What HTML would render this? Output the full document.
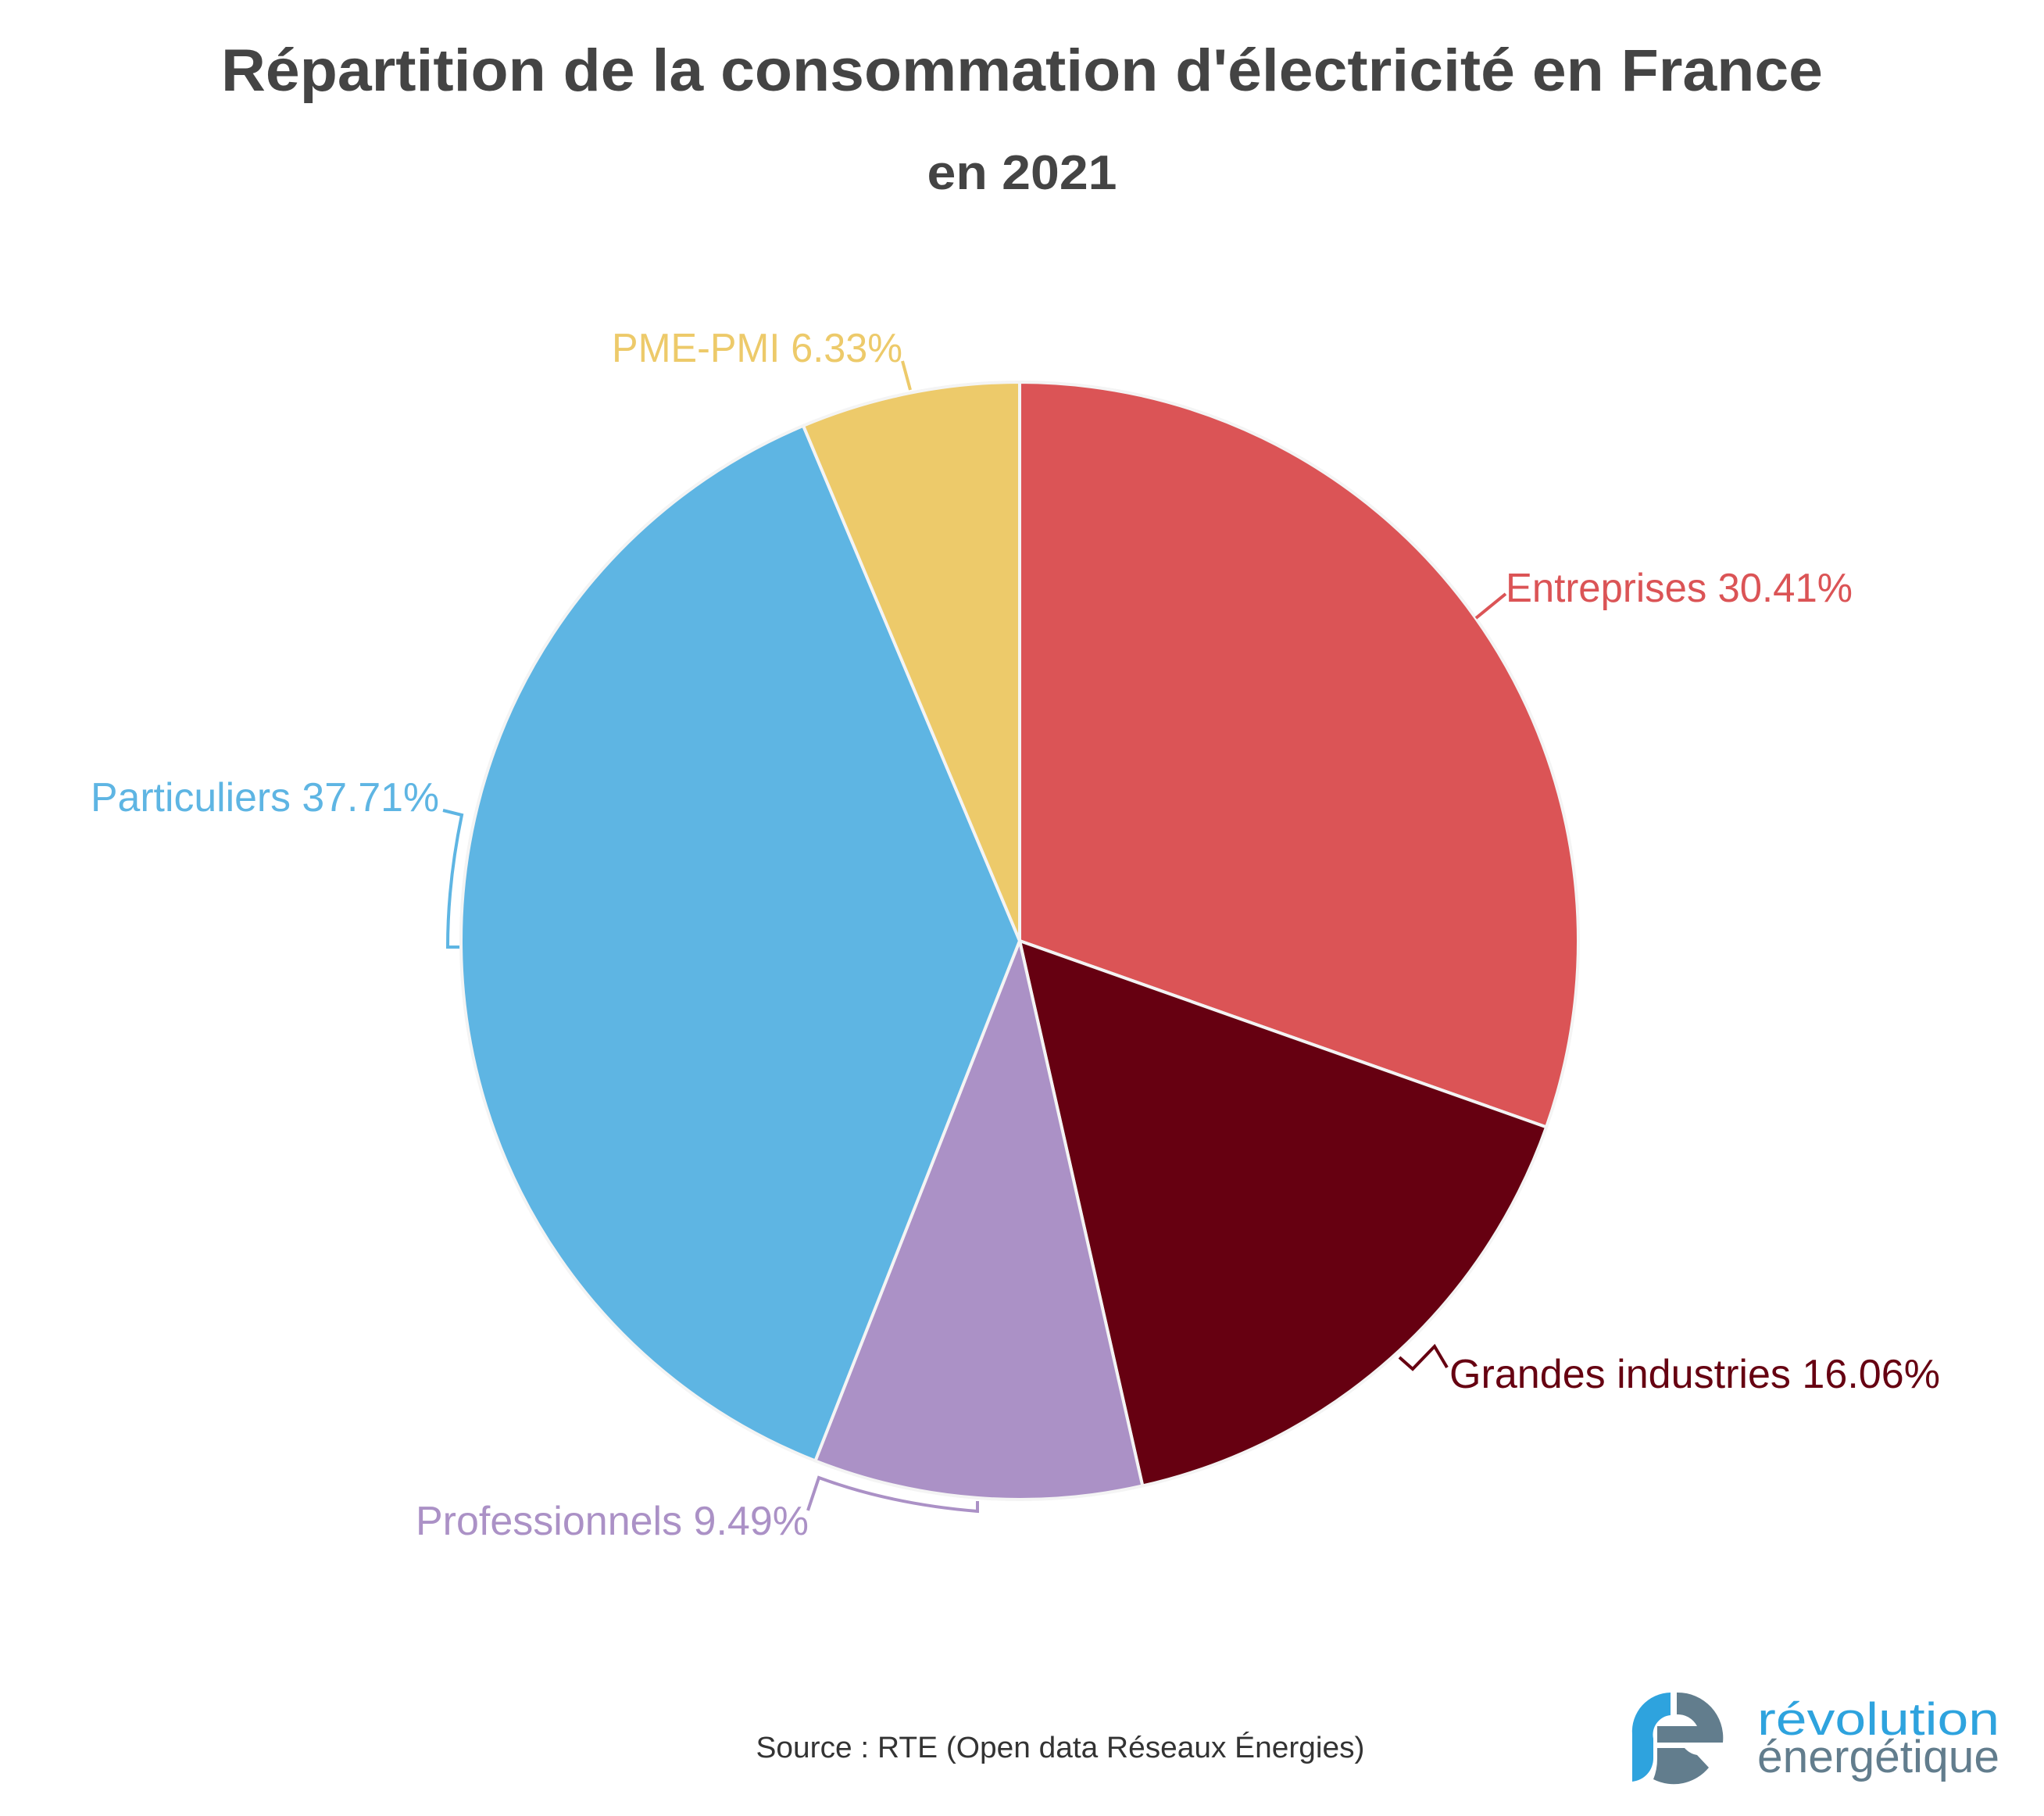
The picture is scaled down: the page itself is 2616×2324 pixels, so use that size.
<!DOCTYPE html>
<html><head><meta charset="utf-8">
<style>
html,body{margin:0;padding:0;background:#fff;}
svg{display:block;}
text{font-family:"Liberation Sans",sans-serif;}
</style></head>
<body>
<svg id="chart" width="2616" height="2324" viewBox="0 0 2616 2324" xmlns="http://www.w3.org/2000/svg">
<text x="1308" y="116" text-anchor="middle" font-size="76" font-weight="bold" fill="#444" textLength="2050" lengthAdjust="spacingAndGlyphs">Répartition de la consommation d'électricité en France</text>
<text x="1308" y="242" text-anchor="middle" font-size="62" font-weight="bold" fill="#444" textLength="243" lengthAdjust="spacingAndGlyphs">en 2021</text>
<g id="slices"></g>
<g id="leaders" fill="none" stroke-width="4">
  <line x1="1165" y1="499" x2="1155" y2="462" stroke="#EDCA6A"/>
  <polyline points="1889,791 1927,760" stroke="#DB5456"/>
  <path d="M567,1037 L591,1043 Q573,1130 573,1212 L588,1212" stroke="#5EB5E3"/>
  <polyline points="1791,1737 1808,1752 1836,1723 1852,1750" stroke="#660011"/>
  <path d="M1034,1933 L1048,1891 Q1140,1925 1251,1934 L1251,1921" stroke="#AB91C6"/>
</g>
<g id="labels" font-size="52">
  <text x="783" y="463" fill="#EDCA6A" textLength="372" lengthAdjust="spacingAndGlyphs">PME-PMI 6.33%</text>
  <text x="1927" y="770" fill="#DB5456" textLength="444" lengthAdjust="spacingAndGlyphs">Entreprises 30.41%</text>
  <text x="116" y="1038" fill="#5EB5E3" textLength="446" lengthAdjust="spacingAndGlyphs">Particuliers 37.71%</text>
  <text x="1855" y="1776" fill="#660011" textLength="628" lengthAdjust="spacingAndGlyphs">Grandes industries 16.06%</text>
  <text x="532" y="1964" fill="#AB91C6" textLength="503" lengthAdjust="spacingAndGlyphs">Professionnels 9.49%</text>
</g>
<text x="1357" y="2249" text-anchor="middle" font-size="38" fill="#333" textLength="779" lengthAdjust="spacingAndGlyphs">Source : RTE (Open data Réseaux Énergies)</text>
<g>
  <path d="M2138,2166 A50,50 0 0 0 2089,2220 L2089,2280 A30,30 0 0 0 2116,2250 L2116,2225 A25,25 0 0 1 2138,2195 Z" fill="#2EA3DE"/>
  <path d="M2146,2166 A58,58 0 0 1 2205,2230 L2121,2230 L2121,2209 L2172,2209 A28,28 0 0 0 2146,2194 Z M2121,2237 L2156,2237 A28,28 0 0 0 2172,2246 L2187,2262 A58,58 0 0 1 2116,2277 Q2121,2265 2121,2250 Z" fill="#627D8D"/>
  <text x="2249" y="2220" font-size="58" fill="#2EA3DE" textLength="310" lengthAdjust="spacingAndGlyphs">révolution</text>
  <text x="2249" y="2268" font-size="58" fill="#627D8D" textLength="310" lengthAdjust="spacingAndGlyphs">énergétique</text>
</g>
</svg>
<script>
const categories = ["Entreprises", "Grandes industries", "Professionnels", "Particuliers", "PME-PMI"];
const values = [30.41, 16.06, 9.49, 37.71, 6.33];
const colors = ["#DB5456", "#660011", "#AB91C6", "#5EB5E3", "#EDCA6A"];

const cx = 1305, cy = 1204, r = 715;
const total = values.reduce((a, b) => a + b, 0);
function angleOf(v) { return v / total * 2 * Math.PI; }
function pt(a) { return [cx + r * Math.sin(a), cy - r * Math.cos(a)]; }
const g = document.getElementById('slices');
let acc = 0;
values.forEach((v, i) => {
  const a0 = angleOf(acc), a1 = angleOf(acc + v);
  acc += v;
  const p0 = pt(a0), p1 = pt(a1);
  const large = (a1 - a0) > Math.PI ? 1 : 0;
  const path = document.createElementNS('http://www.w3.org/2000/svg', 'path');
  path.setAttribute('d', `M${cx},${cy} L${p0[0]},${p0[1]} A${r},${r} 0 ${large} 1 ${p1[0]},${p1[1]} Z`);
  path.setAttribute('fill', colors[i]);
  path.setAttribute('stroke', '#f4f4f4');
  path.setAttribute('stroke-width', '4');
  
  
  g.appendChild(path);
});
</script>
</body></html>
